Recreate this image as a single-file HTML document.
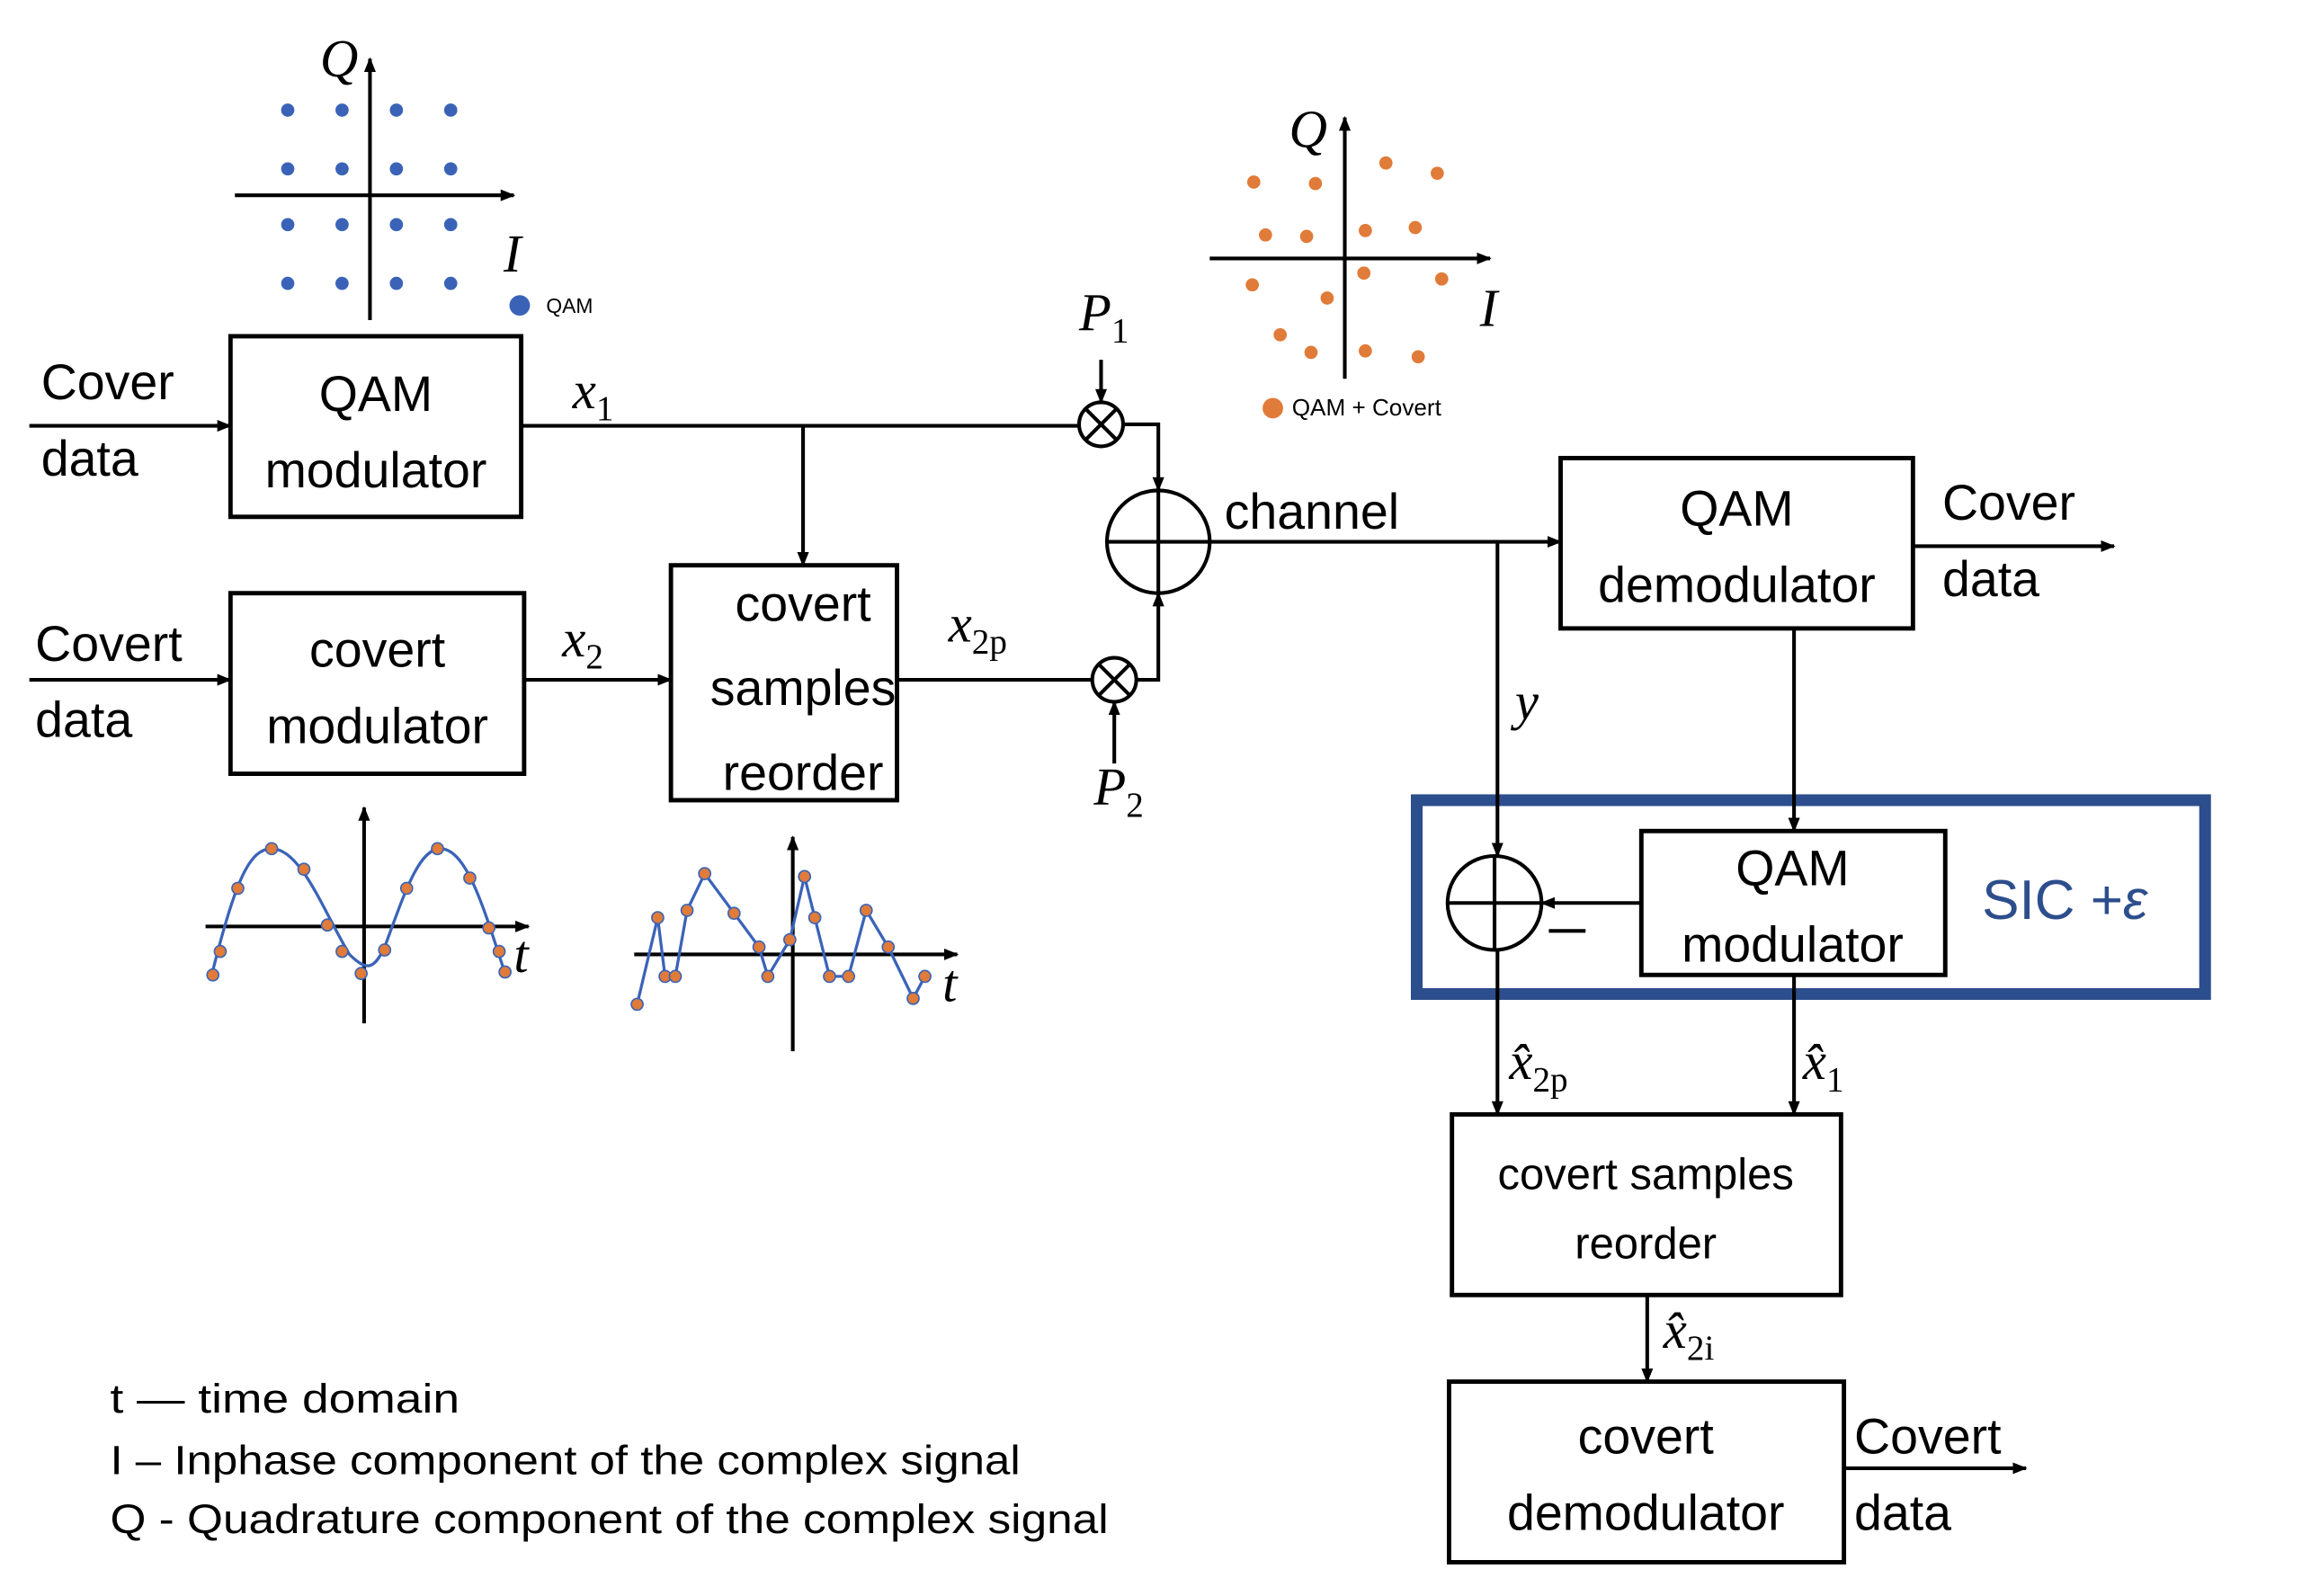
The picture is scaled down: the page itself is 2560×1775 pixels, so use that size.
<!DOCTYPE html>
<html><head><meta charset="utf-8"><style>
html,body{margin:0;padding:0;background:#fff;}
svg{display:block;}
text{font-family:"Liberation Sans",sans-serif;fill:#000;}
.s{font-family:"Liberation Serif",serif;font-style:italic;}
</style></head><body>
<svg width="2560" height="1775" viewBox="0 0 1568 1087" preserveAspectRatio="none" xmlns="http://www.w3.org/2000/svg">
<defs><marker id="a" markerWidth="10" markerHeight="10" refX="9" refY="5" orient="auto" markerUnits="userSpaceOnUse"><path d="M0,1 L10,5 L0,9 z" fill="#000"/></marker></defs>
<g fill="none" stroke="#000" stroke-width="3">
<rect x="157" y="229" width="198" height="123"/>
<rect x="157" y="404" width="200" height="123"/>
<rect x="457" y="385" width="154" height="160"/>
<rect x="1063" y="312" width="240" height="116"/>
<rect x="1118" y="566" width="207" height="98"/>
<rect x="989" y="759" width="265" height="123"/>
<rect x="987" y="941" width="269" height="123"/>
</g>
<rect x="965" y="545" width="537" height="132" fill="none" stroke="#2d4e8c" stroke-width="8"/>
<g fill="none" stroke="#000" stroke-width="2.5">
<line x1="20" y1="290" x2="157" y2="290" marker-end="url(#a)"/>
<line x1="355" y1="290" x2="735" y2="290"/>
<line x1="547" y1="290" x2="547" y2="385" marker-end="url(#a)"/>
<polyline points="765,289 789,289 789,334" marker-end="url(#a)"/>
<line x1="750" y1="245" x2="750" y2="274" marker-end="url(#a)"/>
<line x1="20" y1="463" x2="157" y2="463" marker-end="url(#a)"/>
<line x1="357" y1="463" x2="457" y2="463" marker-end="url(#a)"/>
<line x1="611" y1="463" x2="744" y2="463"/>
<polyline points="774,463 789,463 789,404" marker-end="url(#a)"/>
<line x1="759" y1="520" x2="759" y2="478" marker-end="url(#a)"/>
<circle cx="789" cy="369" r="35"/><line x1="754" y1="369" x2="824" y2="369"/><line x1="789" y1="334" x2="789" y2="404"/>
<circle cx="750" cy="289" r="15"/><line x1="739" y1="278" x2="761" y2="300"/><line x1="761" y1="278" x2="739" y2="300"/>
<circle cx="759" cy="463" r="15"/><line x1="748" y1="452" x2="770" y2="474"/><line x1="770" y1="452" x2="748" y2="474"/>
<line x1="824" y1="369" x2="1063" y2="369" marker-end="url(#a)"/>
<line x1="1020" y1="369" x2="1020" y2="583" marker-end="url(#a)"/>
<line x1="1222" y1="428" x2="1222" y2="566" marker-end="url(#a)"/>
<line x1="1303" y1="372" x2="1440" y2="372" marker-end="url(#a)"/>
<line x1="1118" y1="615" x2="1050" y2="615" marker-end="url(#a)"/>
<circle cx="1018" cy="615" r="32"/><line x1="986" y1="615" x2="1050" y2="615"/><line x1="1018" y1="583" x2="1018" y2="647"/>
<line x1="1020" y1="647" x2="1020" y2="759" marker-end="url(#a)"/>
<line x1="1222" y1="664" x2="1222" y2="759" marker-end="url(#a)"/>
<line x1="1122" y1="882" x2="1122" y2="941" marker-end="url(#a)"/>
<line x1="1256" y1="1000" x2="1380" y2="1000" marker-end="url(#a)"/>
<line x1="1055" y1="634" x2="1080" y2="634"/>
<line x1="252" y1="218" x2="252" y2="40" marker-end="url(#a)"/>
<line x1="160" y1="133" x2="350" y2="133" marker-end="url(#a)"/>
<line x1="916" y1="258" x2="916" y2="80" marker-end="url(#a)"/>
<line x1="824" y1="176" x2="1015" y2="176" marker-end="url(#a)"/>
<line x1="248" y1="697" x2="248" y2="550" marker-end="url(#a)"/>
<line x1="140" y1="631" x2="360" y2="631" marker-end="url(#a)"/>
<line x1="540" y1="716" x2="540" y2="570" marker-end="url(#a)"/>
<line x1="432" y1="650" x2="652" y2="650" marker-end="url(#a)"/>
</g>
<g fill="#3a63b8">
<circle cx="196" cy="75" r="4.5"/><circle cx="233" cy="75" r="4.5"/><circle cx="270" cy="75" r="4.5"/><circle cx="307" cy="75" r="4.5"/>
<circle cx="196" cy="115" r="4.5"/><circle cx="233" cy="115" r="4.5"/><circle cx="270" cy="115" r="4.5"/><circle cx="307" cy="115" r="4.5"/>
<circle cx="196" cy="153" r="4.5"/><circle cx="233" cy="153" r="4.5"/><circle cx="270" cy="153" r="4.5"/><circle cx="307" cy="153" r="4.5"/>
<circle cx="196" cy="193" r="4.5"/><circle cx="233" cy="193" r="4.5"/><circle cx="270" cy="193" r="4.5"/><circle cx="307" cy="193" r="4.5"/>
<circle cx="354" cy="208" r="7"/>
</g>
<g fill="#e07b39">
<circle cx="854" cy="124" r="4.5"/><circle cx="896" cy="125" r="4.5"/><circle cx="944" cy="111" r="4.5"/><circle cx="979" cy="118" r="4.5"/>
<circle cx="862" cy="160" r="4.5"/><circle cx="890" cy="161" r="4.5"/><circle cx="930" cy="157" r="4.5"/><circle cx="964" cy="155" r="4.5"/>
<circle cx="853" cy="194" r="4.5"/><circle cx="904" cy="203" r="4.5"/><circle cx="929" cy="186" r="4.5"/><circle cx="982" cy="190" r="4.5"/>
<circle cx="872" cy="228" r="4.5"/><circle cx="893" cy="240" r="4.5"/><circle cx="930" cy="239" r="4.5"/><circle cx="966" cy="243" r="4.5"/>
<circle cx="867" cy="278" r="7"/>
</g>
<path d="M144,665 C160,600 170,578 185,578 C205,578 220,620 238,650 C250,662 255,660 262,645 C275,610 285,578 300,578 C318,578 330,620 344,663" fill="none" stroke="#3a63b8" stroke-width="2"/>
<g fill="#e07b39" stroke="#3a63b8" stroke-width="1">
<circle cx="145" cy="664" r="4"/><circle cx="150" cy="648" r="4"/><circle cx="162" cy="605" r="4"/><circle cx="185" cy="578" r="4"/><circle cx="207" cy="592" r="4"/><circle cx="223" cy="630" r="4"/><circle cx="233" cy="648" r="4"/><circle cx="246" cy="663" r="4"/><circle cx="262" cy="647" r="4"/><circle cx="277" cy="605" r="4"/><circle cx="298" cy="578" r="4"/><circle cx="320" cy="598" r="4"/><circle cx="333" cy="632" r="4"/><circle cx="340" cy="648" r="4"/><circle cx="344" cy="662" r="4"/>
</g>
<polyline points="434,684 448,625 453,665 460,665 468,620 480,595 500,622 517,645 523,665 538,640 548,597 555,625 565,665 578,665 590,620 605,645 622,680 630,665" fill="none" stroke="#3a63b8" stroke-width="2"/>
<g fill="#e07b39" stroke="#3a63b8" stroke-width="1">
<circle cx="434" cy="684" r="4"/><circle cx="448" cy="625" r="4"/><circle cx="453" cy="665" r="4"/><circle cx="460" cy="665" r="4"/><circle cx="468" cy="620" r="4"/><circle cx="480" cy="595" r="4"/><circle cx="500" cy="622" r="4"/><circle cx="517" cy="645" r="4"/><circle cx="523" cy="665" r="4"/><circle cx="538" cy="640" r="4"/><circle cx="548" cy="597" r="4"/><circle cx="555" cy="625" r="4"/><circle cx="565" cy="665" r="4"/><circle cx="578" cy="665" r="4"/><circle cx="590" cy="620" r="4"/><circle cx="605" cy="645" r="4"/><circle cx="622" cy="680" r="4"/><circle cx="630" cy="665" r="4"/>
</g>
<g font-size="34" text-anchor="middle">
<text x="256" y="280">QAM</text><text x="256" y="332">modulator</text>
<text x="257" y="454">covert</text><text x="257" y="506">modulator</text>
<text x="547" y="423">covert</text><text x="547" y="480">samples</text><text x="547" y="538">reorder</text>
<text x="1183" y="358">QAM</text><text x="1183" y="410">demodulator</text>
<text x="1221" y="603">QAM</text><text x="1221" y="655">modulator</text>
<text x="1121" y="990">covert</text><text x="1121" y="1042">demodulator</text>
</g>
<g font-size="30" text-anchor="middle">
<text x="1121" y="810">covert samples</text><text x="1121" y="857">reorder</text>
</g>
<g font-size="34">
<text x="28" y="272">Cover</text><text x="28" y="324">data</text>
<text x="24" y="450">Covert</text><text x="24" y="502">data</text>
<text x="834" y="360">channel</text>
<text x="1323" y="354">Cover</text><text x="1323" y="406">data</text>
<text x="1263" y="990">Covert</text><text x="1263" y="1042">data</text>
</g>
<g font-size="28" fill="#333">
<text x="75" y="962" textLength="238" lengthAdjust="spacingAndGlyphs">t  — time domain</text>
<text x="75" y="1004" textLength="620" lengthAdjust="spacingAndGlyphs">I – Inphase component of the complex signal</text>
<text x="75" y="1044" textLength="680" lengthAdjust="spacingAndGlyphs">Q - Quadrature component of the complex signal</text>
</g>
<text x="1350" y="626" font-size="38" font-family="Liberation Serif,serif" style="fill:#2d4e8c">SIC +<tspan font-style="italic">ε</tspan></text>
<text x="372" y="213" font-size="14" font-family="Liberation Serif,serif">QAM</text>
<text x="880" y="283" font-size="16" font-family="Liberation Serif,serif">QAM + Covert</text>
<g class="s" font-size="36">
<text x="218" y="52" class="s">Q</text><text x="343" y="185" class="s">I</text>
<text x="878" y="100" class="s">Q</text><text x="1008" y="222" class="s">I</text>
<text x="350" y="662" class="s">t</text><text x="642" y="682" class="s">t</text>
<text x="390" y="278" class="s">x<tspan font-size="24" dy="8" font-style="normal">1</tspan></text>
<text x="383" y="447" class="s">x<tspan font-size="24" dy="8" font-style="normal">2</tspan></text>
<text x="646" y="437" class="s">x<tspan font-size="24" dy="8" font-style="normal">2p</tspan></text>
<text x="735" y="225" class="s">P<tspan font-size="24" dy="8" font-style="normal">1</tspan></text>
<text x="745" y="548" class="s">P<tspan font-size="24" dy="8" font-style="normal">2</tspan></text>
<text x="1032" y="490" class="s">y</text>
<text x="1028" y="735" class="s">x̂<tspan font-size="24" dy="8" font-style="normal">2p</tspan></text>
<text x="1228" y="735" class="s">x̂<tspan font-size="24" dy="8" font-style="normal">1</tspan></text>
<text x="1133" y="918" class="s">x̂<tspan font-size="24" dy="8" font-style="normal">2i</tspan></text>
</g>
</svg>
</body></html>
